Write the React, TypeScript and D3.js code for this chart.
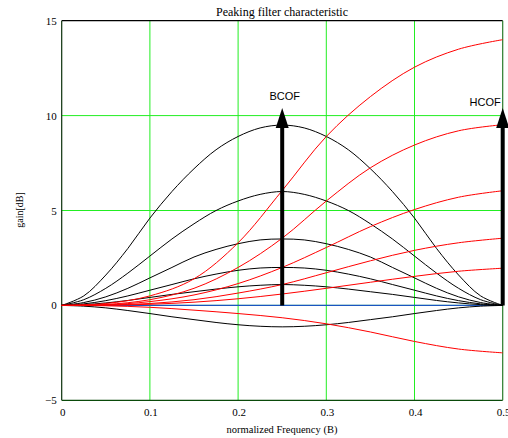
import React from "react";
import * as d3 from "d3";

const W = 508;
const H = 438;

// x sample grids
const fBlack = [0, 0.025, 0.05, 0.075, 0.1, 0.125, 0.15, 0.175, 0.2, 0.225, 0.25, 0.275, 0.3, 0.325, 0.35, 0.375, 0.4, 0.425, 0.45, 0.475, 0.5];
const fRed = [0, 0.05, 0.1, 0.15, 0.2, 0.25, 0.3, 0.35, 0.4, 0.45, 0.5];

// peaking filter (black) gains in dB
const peak95 = [0, 0.5, 1.6, 3.0, 4.6, 6.0, 7.2, 8.2, 8.9, 9.35, 9.5, 9.35, 8.9, 8.2, 7.2, 6.0, 4.6, 3.0, 1.6, 0.5, 0];
const peak60 = [0, 0.3, 0.9, 1.7, 2.6, 3.5, 4.3, 5.0, 5.5, 5.85, 6.0, 5.85, 5.5, 5.0, 4.3, 3.5, 2.6, 1.7, 0.9, 0.3, 0];
const peak35 = [0, 0.15, 0.45, 0.9, 1.45, 2.0, 2.55, 2.95, 3.25, 3.45, 3.5, 3.45, 3.25, 2.95, 2.55, 2.0, 1.45, 0.9, 0.45, 0.15, 0];
const peak20 = [0, 0.08, 0.25, 0.5, 0.8, 1.1, 1.4, 1.65, 1.85, 1.97, 2.0, 1.97, 1.85, 1.65, 1.4, 1.1, 0.8, 0.5, 0.25, 0.08, 0];
const peak11 = [0, 0.04, 0.13, 0.26, 0.42, 0.58, 0.72, 0.86, 0.98, 1.06, 1.1, 1.06, 0.98, 0.86, 0.72, 0.58, 0.42, 0.26, 0.13, 0.04, 0];
const peakNeg = [0, -0.04, -0.13, -0.27, -0.43, -0.6, -0.75, -0.9, -1.02, -1.1, -1.13, -1.1, -1.02, -0.9, -0.75, -0.6, -0.43, -0.27, -0.13, -0.04, 0];

// high shelf (red) gains in dB
const shelf14 = [0, 0.1, 0.5, 1.4, 3.3, 6.05, 8.9, 11.0, 12.55, 13.5, 14.0];
const shelf95 = [0, 0.05, 0.3, 0.9, 2.0, 3.54, 5.5, 7.25, 8.45, 9.2, 9.52];
const shelf60 = [0, 0.03, 0.2, 0.55, 1.15, 2.0, 3.05, 4.15, 5.05, 5.7, 6.04];
const shelf35 = [0, 0.02, 0.1, 0.3, 0.65, 1.1, 1.72, 2.35, 2.9, 3.3, 3.54];
const shelf20 = [0, 0.01, 0.06, 0.17, 0.35, 0.6, 0.9, 1.22, 1.53, 1.8, 1.96];
const shelfNeg = [0, -0.02, -0.1, -0.25, -0.43, -0.65, -0.97, -1.4, -1.9, -2.3, -2.5];

const blackSeries = [peak95, peak60, peak35, peak20, peak11, peakNeg];
const redSeries = [shelf14, shelf95, shelf60, shelf35, shelf20, shelfNeg];

const xTicks = [0, 0.1, 0.2, 0.3, 0.4, 0.5];
const xTickLabels = ["0", "0.1", "0.2", "0.3", "0.4", "0.5"];
const yTicks = [-5, 0, 5, 10, 15];
const yTickLabels = ["\u22125", "0", "5", "10", "15"];
const xGrid = [0.1, 0.2, 0.3, 0.4];
const yGrid = [0, 5, 10];

const arrows = [
  { f: 0.25, label: "BCOF" },
  { f: 0.5, label: "HCOF" },
];
const arrowTip = 10.4;

export default function App() {
  const left = 61.7, right = 502.7, top = 20.7, bottom = 400.3;
  const x = d3.scaleLinear().domain([0, 0.5]).range([left, right]);
  const y = d3.scaleLinear().domain([-5, 15]).range([bottom, top]);

  const mkLine = (fs: number[]) =>
    d3
      .line<number>()
      .x((_, i) => x(fs[i]))
      .y((d) => y(d))
      .curve(d3.curveCatmullRom.alpha(0.5));

  const lineB = mkLine(fBlack);
  const lineR = mkLine(fRed);
  const serif = "'Liberation Serif', 'Times New Roman', serif";
  const sans = "'Liberation Sans', Arial, sans-serif";

  return (
    <svg
      width={W}
      height={H}
      style={{ position: "absolute", left: 0, top: 0, background: "#fff" }}
    >
      {/* grid */}
      {xGrid.map((g) => (
        <line key={"gx" + g} x1={x(g)} x2={x(g)} y1={top} y2={bottom} stroke="#22ee22" strokeWidth={1} />
      ))}
      {yGrid.map((g) => (
        <line key={"gy" + g} x1={left} x2={right} y1={y(g)} y2={y(g)} stroke="#22ee22" strokeWidth={1} />
      ))}
      {/* zero line */}
      <line x1={left} x2={right} y1={y(0)} y2={y(0)} stroke="#1a55c0" strokeWidth={1.2} />

      {/* frame */}
      <line x1={left} x2={right} y1={top} y2={top} stroke="#000" strokeWidth={1.2} />
      <line x1={left} x2={right} y1={bottom} y2={bottom} stroke="#0a4a0a" strokeWidth={1.2} />
      <line x1={left} x2={left} y1={top} y2={bottom} stroke="#0a300a" strokeWidth={1.2} />
      <line x1={right} x2={right} y1={top} y2={bottom} stroke="#2a7a2a" strokeWidth={1.2} />

      {/* curves */}
      {blackSeries.map((s, i) => (
        <path key={"b" + i} d={lineB(s) || ""} fill="none" stroke="#000" strokeWidth={1} />
      ))}
      {redSeries.map((s, i) => (
        <path key={"r" + i} d={lineR(s) || ""} fill="none" stroke="#ff0000" strokeWidth={1} />
      ))}

      {/* arrows */}
      {arrows.map((a) => {
        const ax = x(a.f);
        const tip = y(arrowTip);
        return (
          <g key={a.label}>
            <line x1={ax} x2={ax} y1={y(0)} y2={tip + 10} stroke="#000" strokeWidth={4} />
            <path d={`M${ax},${tip} L${ax - 6.5},${tip + 20} L${ax + 6.5},${tip + 20} Z`} fill="#000" />
          </g>
        );
      })}
      <text x={x(0.25) + 2.5} y={y(arrowTip) - 8} textAnchor="middle" fontFamily={sans} fontSize={11} fill="#000">
        BCOF
      </text>
      <text x={x(0.5) - 2} y={y(arrowTip) - 2} textAnchor="end" fontFamily={sans} fontSize={11} fill="#000">
        HCOF
      </text>

      {/* tick labels */}
      {xTicks.map((t, i) => (
        <text key={"xt" + t} x={x(t) + 1} y={bottom + 16} textAnchor="middle" fontFamily={serif} fontSize={11} fill="#000">
          {xTickLabels[i]}
        </text>
      ))}
      {yTicks.map((t, i) => (
        <text key={"yt" + t} x={left - 5} y={y(t) + 4} textAnchor="end" fontFamily={serif} fontSize={11} fill="#000">
          {yTickLabels[i]}
        </text>
      ))}

      {/* titles */}
      <text x={282} y={16} textAnchor="middle" fontFamily={serif} fontSize={12} fill="#000">
        Peaking filter characteristic
      </text>
      <text x={282} y={433} textAnchor="middle" fontFamily={serif} fontSize={10.5} fill="#000">
        normalized Frequency (B)
      </text>
      <text
        transform={`translate(23,210) rotate(-90)`}
        textAnchor="middle"
        fontFamily={serif}
        fontSize={10}
        fill="#000"
      >
        gain[dB]
      </text>
    </svg>
  );
}
